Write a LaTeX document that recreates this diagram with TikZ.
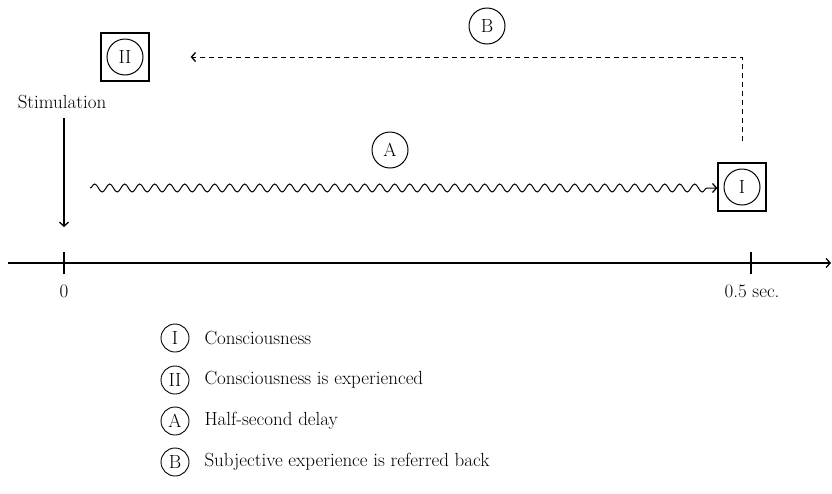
\documentclass[tikz,border=0pt]{standalone}
\usetikzlibrary{arrows.meta,decorations.pathmorphing}
\begin{document}
\begin{tikzpicture}[x=1pt,y=-1pt,
  every node/.style={font=\fontsize{19}{22}\selectfont},
  ring/.style={draw,circle,line width=1pt,minimum size=36pt,inner sep=0pt},
  keyring/.style={draw,circle,line width=0.9pt,minimum size=28pt,inner sep=0pt},
  frame/.style={draw,line width=1.3pt,minimum size=48pt,inner sep=0pt},
  barb/.style={-{Straight Barb[length=4pt,width=9pt,line width=1.3pt]}},
  keytext/.style={anchor=west}]
\useasboundingbox (0,0) rectangle (832,493);

% time axis
\coordinate (start) at (8,263);
\coordinate (end) at (831,263);
\coordinate (t0) at (64,263);
\coordinate (t1) at (751,263);
\draw[line width=1.8pt,barb] (start) -- (end);
\draw[line width=1.5pt] ([yshift=-11pt]t0) -- ([yshift=11pt]t0);
\draw[line width=1.5pt] ([yshift=-11pt]t1) -- ([yshift=11pt]t1);
\node (zero) at (64,291) {0};
\node (half) at (752,291) {0.5 sec.};

% stimulation
\node (stim) at (62,102) {Stimulation};
\draw[line width=1.1pt,barb,shorten >=36pt] ([yshift=-6pt]stim.south -| t0) -- (t0);

% boxes
\node[frame] (boxI) at (742,187) {};
\node[ring] (ringI) at (boxI.center) {I};
\node[frame] (boxII) at (125,57) {};
\node[ring] (ringII) at (boxII.center) {II};

% half-second delay
\coordinate (wave) at (90,188);
\node[ring] (ringA) at (390,150) {A};
\draw[line width=1pt,barb,decorate,
  decoration={snake,segment length=15pt,amplitude=4pt,post length=6pt}]
  (wave) -- (wave -| boxI.west) ;

% referred back
\node[ring] (ringB) at (487,26) {B};
\draw[line width=1pt,dash pattern=on 5pt off 4pt,barb,
  shorten <=21pt,shorten >=41pt] (boxI.north) |- (boxII.east);

% key
\node[keyring] (kI) at (175,338) {I};
\node[keyring] (kII) at (175,380) {II};
\node[keyring] (kA) at (175,421) {A};
\node[keyring] (kB) at (175,462) {B};
\node[keytext] (lI) at ([xshift=26pt]kI.center) {Consciousness};
\node[keytext] (lII) at ([xshift=26pt]kII.center) {Consciousness is experienced};
\node[keytext] (lA) at ([xshift=26pt]kA.center) {Half-second delay};
\node[keytext] (lB) at ([xshift=26pt]kB.center) {Subjective experience is referred back};
\end{tikzpicture}
\end{document}
